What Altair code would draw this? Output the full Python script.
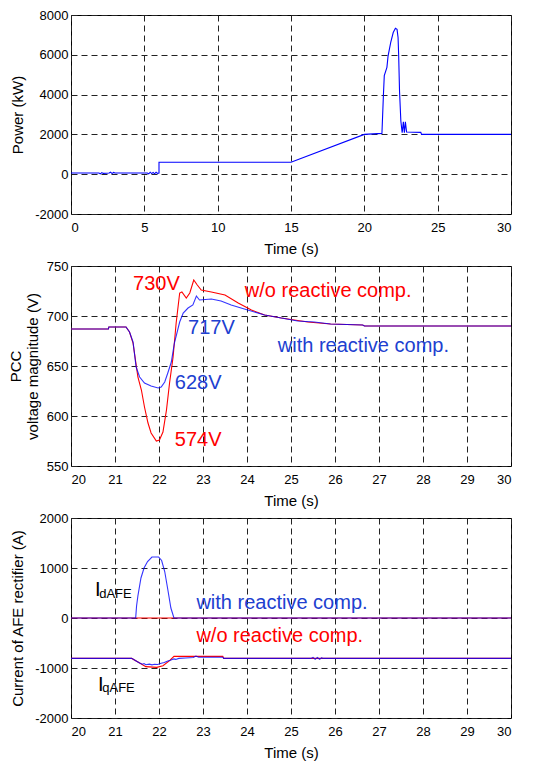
import altair as alt
import pandas as pd

FONT = "Liberation Sans"
BLUE = "#0000ff"
RED = "#ff0000"
TXT_BLUE = "#2040d0"
TXT_RED = "#ff0000"

# ---------------- Panel 1: Power (kW), 0..30 s ----------------
p_t = [0, 1.9, 2.0, 2.1, 2.2, 2.6, 2.7, 2.8, 2.9, 3.0, 5.2, 5.3, 5.4, 5.5, 5.6, 5.7, 5.8, 5.9,
       6.0, 6.0, 15.0, 20.0, 21.2, 21.3, 21.36, 21.54, 21.62, 21.8, 21.97, 22.12, 22.23, 22.3,
       22.34, 22.4, 22.49, 22.58, 22.66, 22.73, 22.8, 22.88, 23.85, 23.9, 30]
p_kw = [60, 60, 20, 80, 40, 60, 100, 30, 90, 60, 60, 20, 100, 30, 90, 20, 100, 40,
        60, 600, 600, 2000, 2050, 3950, 4950, 5370, 5950, 6620, 7120, 7330, 7280, 6870,
        6000, 4170, 2670, 2080, 2630, 2080, 2630, 2120, 2100, 2000, 2000]

# ---------------- Panel 2: PCC voltage (V), 20..30 s ----------------
v_t_with = [20, 20.85, 20.86, 21.25, 21.33, 21.41, 21.48, 21.56, 21.67, 21.82, 21.98, 22.05, 22.13,
            22.2, 22.28, 22.35, 22.47, 22.55, 22.66, 22.77, 22.85, 22.92, 23.19, 23.41, 23.64,
            23.94, 24.4, 24.78, 25.15, 25.53, 25.9, 26.63, 26.67, 30]
v_with = [687, 687, 689, 689, 684, 674, 649, 639, 633, 630, 628, 629, 634,
          643, 654, 673, 694, 703, 708, 711, 720, 716, 717, 715, 711,
          707, 701, 698, 695, 694, 692, 691, 690, 690]
v_t_wo = [20, 20.85, 20.86, 21.25, 21.33, 21.41, 21.52, 21.6, 21.67, 21.75, 21.82, 21.94, 22.01,
          22.09, 22.17, 22.24, 22.32, 22.39, 22.47, 22.52, 22.62, 22.7, 22.79, 22.87, 22.96,
          23.19, 23.5, 23.8, 24.1, 24.4, 24.78, 25.38, 25.9, 26.63, 26.67, 30]
v_wo = [687, 687, 689, 689, 684, 673, 639, 626, 609, 593, 583, 575, 576,
        584, 606, 633, 659, 693, 723, 724, 718, 723, 736, 731, 726,
        724, 721, 713, 706, 701, 698, 694, 692, 691, 690, 690]

ann2_text = ["730V", "w/o reactive comp.", "717V", "with reactive comp.", "628V", "574V"]
ann2_t = [21.41, 23.95, 22.66, 24.70, 22.36, 22.36]
ann2_v = [726, 719.3, 681.7, 664.3, 626.7, 570]
ann2_col = [TXT_RED, TXT_RED, TXT_BLUE, TXT_BLUE, TXT_BLUE, TXT_RED]

# ---------------- Panel 3: AFE rectifier currents (A), 20..30 s ----------------
id_t_with = [20, 21.47, 21.49, 21.52, 21.59, 21.66, 21.74, 21.84, 21.99, 22.06, 22.13, 22.2, 22.27, 22.34, 30]
id_with = [0, 0, 240, 440, 800, 1000, 1130, 1220, 1220, 1150, 930, 570, 200, 0, 0]
id_t_wo = [20, 30]
id_wo = [0, 0]
iq_t_with = [20, 21.38, 21.5, 21.56, 21.62, 21.66, 21.7, 21.78, 21.84, 21.9, 21.97, 22.05, 22.12,
             22.2, 22.26, 22.3, 22.34, 22.38, 22.45, 22.6, 22.78, 22.84, 22.9, 23.45, 23.47,
             25.45, 25.5, 25.55, 25.6, 25.65, 25.7, 25.72, 30]
iq_with = [-808, -808, -870, -900, -925, -912, -935, -922, -938, -925, -930, -905, -890,
           -860, -845, -830, -818, -828, -808, -800, -790, -760, -785, -785, -808,
           -808, -790, -825, -790, -825, -795, -808, -808]
iq_t_wo = [20, 21.38, 21.56, 21.7, 21.95, 22.09, 22.24, 22.34, 23.45, 23.47, 30]
iq_wo = [-808, -808, -900, -973, -987, -954, -854, -768, -768, -808, -808]

ann3_text = ["with reactive comp.", "w/o reactive comp."]
ann3_t = [22.85, 22.85]
ann3_v = [180, -487]
ann3_col = [TXT_BLUE, TXT_RED]
sym_text = ["I", "I"]
sym_t = [20.545, 20.614]
sym_v = [432, -1468]
sub_text = ["dAFE", "qAFE"]
sub_t = [20.64, 20.71]
sub_v = [400, -1488]


def x_axis(values):
    return alt.Axis(values=values, format="d", title="Time (s)", labelPadding=7, titlePadding=7)


def y_axis(values, title, title_x, h):
    return alt.Axis(values=values, labelExpr="toString(datum.value)", title=title,
                    titleX=title_x, titleY=h / 2, titleAngle=270, titleBaseline="middle",
                    titleAlign="center", labelPadding=3, titleLineHeight=17)


def line(df, color, opacity=1.0):
    return alt.Chart(df).mark_line(color=color, strokeWidth=1.1, strokeOpacity=opacity)


def series(t, v):
    return pd.DataFrame({"t": t, "v": v, "i": list(range(len(t)))})


# Panel 1
H1 = 199
c1 = line(series(p_t, p_kw), BLUE).encode(
    x=alt.X("t:Q", scale=alt.Scale(domain=[0, 30], nice=False), axis=x_axis(list(range(0, 31, 5)))),
    y=alt.Y("v:Q", scale=alt.Scale(domain=[-2000, 8000], nice=False),
            axis=y_axis(list(range(-2000, 8001, 2000)), "Power (kW)", -54, H1)),
    order="i:Q",
).properties(width=440, height=H1)

# Panel 2
H2 = 200
x2 = alt.X("t:Q", scale=alt.Scale(domain=[20, 30], nice=False), axis=x_axis(list(range(20, 31))))
y2 = alt.Y("v:Q", scale=alt.Scale(domain=[550, 750], nice=False),
           axis=y_axis(list(range(550, 751, 50)), ["PCC", "voltage magnitude (V)"], -55.5, H2))
ann2 = pd.DataFrame({"t": ann2_t, "v": ann2_v, "txt": ann2_text, "col": ann2_col})
c2 = alt.layer(
    line(series(v_t_wo, v_wo), RED).encode(x=x2, y=y2, order="i:Q"),
    line(series(v_t_with, v_with), BLUE, 0.8).encode(x=x2, y=y2, order="i:Q"),
    alt.Chart(ann2).mark_text(font=FONT, fontSize=20, align="left", baseline="alphabetic").encode(
        x="t:Q", y="v:Q", text="txt:N", color=alt.Color("col:N", scale=None)),
).properties(width=440, height=H2)

# Panel 3
H3 = 200
x3 = alt.X("t:Q", scale=alt.Scale(domain=[20, 30], nice=False), axis=x_axis(list(range(20, 31))))
y3 = alt.Y("v:Q", scale=alt.Scale(domain=[-2000, 2000], nice=False),
           axis=y_axis(list(range(-2000, 2001, 1000)), "Current of AFE rectifier (A)", -54, H3))
ann3 = pd.DataFrame({"t": ann3_t, "v": ann3_v, "txt": ann3_text, "col": ann3_col})
sym = pd.DataFrame({"t": sym_t, "v": sym_v, "txt": sym_text})
sub = pd.DataFrame({"t": sub_t, "v": sub_v, "txt": sub_text})
c3 = alt.layer(
    line(series(id_t_wo, id_wo), RED).encode(x=x3, y=y3, order="i:Q"),
    line(series(iq_t_wo, iq_wo), RED).encode(x=x3, y=y3, order="i:Q"),
    line(series(id_t_with, id_with), BLUE, 0.8).encode(x=x3, y=y3, order="i:Q"),
    line(series(iq_t_with, iq_with), BLUE, 0.8).encode(x=x3, y=y3, order="i:Q"),
    alt.Chart(ann3).mark_text(font=FONT, fontSize=20, align="left", baseline="alphabetic").encode(
        x="t:Q", y="v:Q", text="txt:N", color=alt.Color("col:N", scale=None)),
    alt.Chart(sym).mark_text(font=FONT, fontSize=20, align="left", baseline="alphabetic", color="black").encode(
        x="t:Q", y="v:Q", text="txt:N"),
    alt.Chart(sub).mark_text(font=FONT, fontSize=13, align="left", baseline="alphabetic", color="black").encode(
        x="t:Q", y="v:Q", text="txt:N"),
).properties(width=440, height=H3)

chart = alt.vconcat(c1, c2, c3, spacing=2).properties(
    padding={"left": 0, "top": 0, "right": 10, "bottom": 0},
    background="white",
).configure(font=FONT).configure_view(
    stroke="black", strokeWidth=1
).configure_axis(
    grid=True, gridDash=[6, 4], gridColor="#222222", gridWidth=1, gridOpacity=1,
    ticks=False, domain=False,
    labelFont=FONT, labelFontSize=13, labelColor="black",
    titleFont=FONT, titleFontSize=15, titleFontWeight="normal", titleColor="black",
)

chart.save("out.html", embed_options={"renderer": "svg", "actions": False})
